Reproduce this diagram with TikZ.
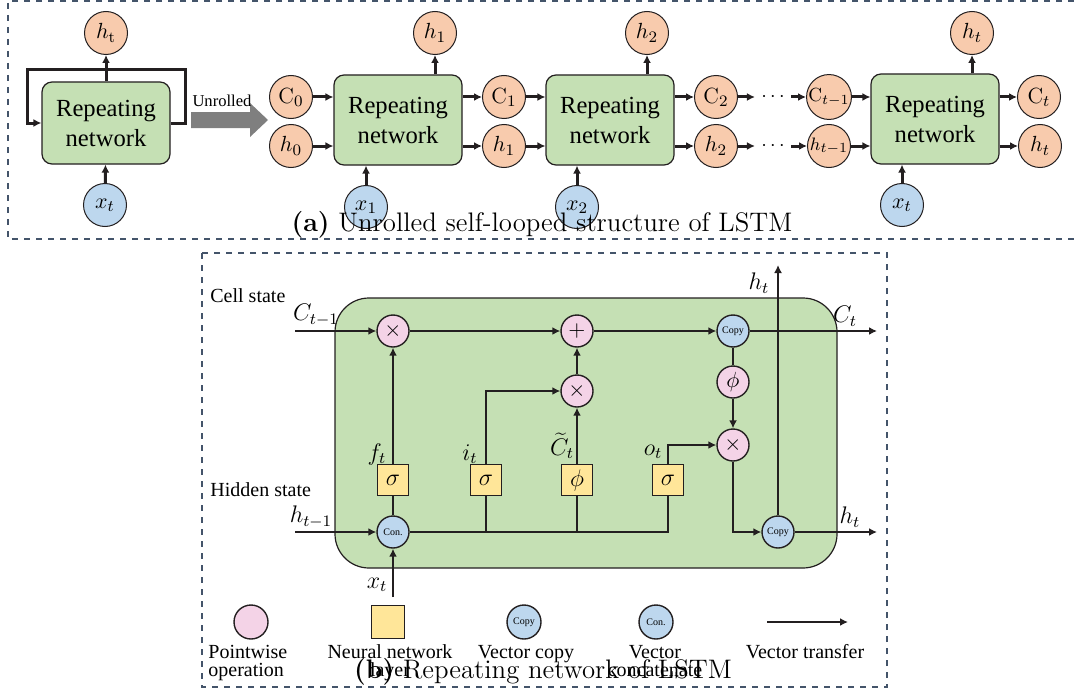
\documentclass[tikz,border=0pt]{standalone}
\usepackage{fontspec}
\newfontfamily\tnr{Liberation Serif}
\usepackage{xcolor}
\usetikzlibrary{arrows.meta}
\definecolor{rnGreen}{HTML}{C5E0B4}
\definecolor{outOrange}{HTML}{F8CBAD}
\definecolor{inBlue}{HTML}{BDD7EE}
\definecolor{opPink}{HTML}{F4D3E7}
\definecolor{nnYellow}{HTML}{FFE699}
\definecolor{ink}{HTML}{231F20}
\definecolor{frameBlue}{HTML}{44546A}
\definecolor{unrollGray}{HTML}{7F7F7F}

\begin{document}
\begin{tikzpicture}[x=0.5pt, y=-0.5pt, >={Latex[length=4pt,width=4pt]}]
    \tikzset{rnet/.style = {draw=ink, fill=rnGreen, rounded corners=5pt, minimum width=64pt, minimum height=45pt, align=center, font=\tnr\fontsize{12.3}{15}\selectfont, line width=0.6pt}}
    \tikzset{outv/.style = {shape=circle, draw=ink, fill=outOrange, minimum size=21.5pt, inner sep=0pt, line width=0.5pt, font=\fontsize{11}{12}\selectfont}}
    \tikzset{inv/.style = {outv, fill=inBlue}}
    \tikzset{flow/.style = {draw=ink, line width=1.5pt, ->}}
    \tikzset{frame/.style = {draw=frameBlue, dashed, line width=0.6pt}}
    \tikzset{op/.style = {shape=circle, draw=ink, fill=opPink, minimum size=16pt, inner sep=0pt, line width=0.7pt, font=\fontsize{11}{12}\selectfont}}
    \tikzset{vec/.style = {op, fill=inBlue, font=\tnr\fontsize{5}{6}\selectfont}}
    \tikzset{layer/.style = {draw=ink, fill=nnYellow, minimum size=15.5pt, inner sep=0pt, line width=0.8pt, font=\fontsize{13}{14}\selectfont}}
    \tikzset{wire/.style = {draw=ink, line width=1pt}}
    \tikzset{mlabel/.style = {font=\fontsize{12}{14}\selectfont, inner sep=0pt}}
    \tikzset{tlabel/.style = {font=\tnr\fontsize{10}{9}\selectfont, inner sep=0pt}}
    \useasboundingbox (0,0) rectangle (1074,690);

    % (a) frame
    \draw[frame] (1074,1) -- (8,1) -- (8,239) -- (1074,239);

    % (a) vertices
    \node[rnet, minimum height=41pt] (rn0) at (106,123) {Repeating\\network};
    \node[outv] (hl) at (106,33) {$h_{\mathrm{t}}$};
    \node[inv] (xl) at (105,205) {$x_t$};

    \node[outv] (c0) at (291,97) {$\mathrm{C}_0$};
    \node[outv] (h0) at (291,146) {$h_0$};
    \node[rnet] (rn1) at (398,120) {Repeating\\network};
    \node[outv] (hu1) at (435,33) {$h_1$};
    \node[inv] (x1) at (366,207) {$x_1$};
    \node[outv] (c1) at (504,97) {$\mathrm{C}_1$};
    \node[outv] (h1) at (504,146) {$h_1$};
    \node[rnet] (rn2) at (610,120) {Repeating\\network};
    \node[outv] (hu2) at (647,33) {$h_2$};
    \node[inv] (x2) at (577,207) {$x_2$};
    \node[outv] (c2) at (716,97) {$\mathrm{C}_2$};
    \node[outv] (h2) at (716,146) {$h_2$};
    \node[inner xsep=3pt, inner ysep=0pt] (dc) at (773,97) {$\cdots$};
    \node[inner xsep=3pt, inner ysep=0pt] (dh) at (773,146) {$\cdots$};
    \node[outv, font=\fontsize{9.5}{10}\selectfont] (ct1) at (829,97) {$\mathrm{C}_{t-1}$};
    \node[outv, font=\fontsize{9.5}{10}\selectfont] (ht1) at (829,146) {$h_{t-1}$};
    \node[rnet] (rnt) at (935,119) {Repeating\\network};
    \node[outv] (hut) at (972,33) {$h_t$};
    \node[inv] (xt) at (902,205) {$x_t$};
    \node[outv] (ct) at (1039,97) {$\mathrm{C}_t$};
    \node[outv] (ht) at (1040,146) {$h_t$};

    % (a) edges
    \draw[flow] (rn0) -- (hl);
    \draw[flow] (xl) -- (rn0);
    \draw[flow] (rn0.east) -- ++(15,0) |- (27,70) |- (rn0.west);
    \fill[unrollGray] (191,112) -- (250,112) -- (250,103) -- (268,120) -- (250,137) -- (250,128) -- (191,128) -- cycle;
    \node[font=\tnr\fontsize{8.3}{10}\selectfont, inner sep=0pt] (unr) at (222,101) {Unrolled};

    \draw[flow] (c0) -- (rn1.west |- c0);
    \draw[flow] (h0) -- (rn1.west |- h0);
    \draw[flow] (rn1.north -| hu1) -- (hu1);
    \draw[flow] (x1) -- (rn1.south -| x1);
    \draw[flow] (rn1.east |- c1) -- (c1);
    \draw[flow] (rn1.east |- h1) -- (h1);
    \draw[flow] (c1) -- (rn2.west |- c1);
    \draw[flow] (h1) -- (rn2.west |- h1);
    \draw[flow] (rn2.north -| hu2) -- (hu2);
    \draw[flow] (x2) -- (rn2.south -| x2);
    \draw[flow] (rn2.east |- c2) -- (c2);
    \draw[flow] (rn2.east |- h2) -- (h2);
    \draw[flow] (c2) -- (dc);
    \draw[flow] (h2) -- (dh);
    \draw[flow] (dc) -- (ct1);
    \draw[flow] (dh) -- (ht1);
    \draw[flow] (ct1) -- (rnt.west |- ct1);
    \draw[flow] (ht1) -- (rnt.west |- ht1);
    \draw[flow] (rnt.north -| hut) -- (hut);
    \draw[flow] (xt) -- (rnt.south -| xt);
    \draw[flow] (rnt.east |- ct) -- (ct);
    \draw[flow] (rnt.east |- ht) -- (ht);

    \node[anchor=base, inner sep=0pt, font=\fontsize{13.4}{16}\selectfont] (capa) at (542,231) {\textbf{(a)} Unrolled self-looped structure of LSTM};

    % (b) frame and cell
    \draw[frame] (202,253) rectangle (887,687);
    \node[draw=ink, fill=rnGreen, rounded corners=17pt, line width=0.6pt, minimum width=251pt, minimum height=135pt] (cell) at (586,433) {};

    % (b) vertices
    \node[op] (mf) at (393,331) {$\times$};
    \node[op] (ad) at (577,331) {$+$};
    \node[vec] (cp1) at (733,331) {Copy};
    \node[op] (mi) at (577,391) {$\times$};
    \node[op] (tc) at (733,382) {$\phi$};
    \node[op] (mo) at (733,445) {$\times$};
    \node[layer] (sf) at (393,480) {$\sigma$};
    \node[layer] (si) at (486,480) {$\sigma$};
    \node[layer] (sc) at (577,480) {$\phi$};
    \node[layer] (so) at (668,480) {$\sigma$};
    \node[vec] (cn) at (393,532) {Con.};
    \node[vec] (cp2) at (778,532) {Copy};
    \coordinate (cin) at (295,331);
    \coordinate (hin) at (295,532);
    \coordinate (xin) at (393,597);
    \coordinate (cout) at (877,331);
    \coordinate (hout) at (877,532);
    \coordinate (htop) at (778,265);

    % (b) labels
    \node[tlabel, anchor=west] (lcell) at (210,296) {Cell state};
    \node[tlabel, anchor=west] (lhid) at (210,490) {Hidden state};
    \node[mlabel] (lcin) at (316,315) {$C_{t-1}$};
    \node[mlabel] (lhin) at (311,517) {$h_{t-1}$};
    \node[mlabel] (lxin) at (377,585) {$x_t$};
    \node[mlabel] (lf) at (377,454) {$f_t$};
    \node[mlabel] (li) at (470,454) {$i_t$};
    \node[mlabel] (lc) at (562,446) {$\widetilde{C}_t$};
    \node[mlabel] (lo) at (653,452) {$o_t$};
    \node[mlabel] (lcout) at (845,316) {$C_t$};
    \node[mlabel] (lhout) at (850,517) {$h_t$};
    \node[mlabel] (lhtop) at (759,283) {$h_t$};

    % (b) edges
    \draw[wire, ->] (cin) -- (mf);
    \draw[wire, ->] (mf) -- (ad);
    \draw[wire, ->] (ad) -- (cp1);
    \draw[wire, ->] (cp1) -- (cout);
    \draw[wire, ->] (hin) -- (cn);
    \draw[wire, ->] (xin) -- (cn);
    \draw[wire] (cn) -- (sf);
    \draw[wire, ->] (sf) -- (mf);
    \draw[wire] (cn) -| (so);
    \draw[wire] (si) -- (si |- cn);
    \draw[wire] (sc) -- (sc |- cn);
    \draw[wire, ->] (si) |- (mi);
    \draw[wire, ->] (sc) -- (mi);
    \draw[wire, ->] (mi) -- (ad);
    \draw[wire] (cp1) -- (tc);
    \draw[wire, ->] (tc) -- (mo);
    \draw[wire, ->] (so) |- (mo);
    \draw[wire, ->] (mo) |- (cp2);
    \draw[wire, ->] (cp2) -- (hout);
    \draw[wire, ->] (cp2) -- (htop);

    % legend
    \node[op, minimum size=17pt] (lgop) at (251,622) {};
    \node[layer, minimum size=16.5pt] (lgnn) at (388,622) {};
    \node[vec, minimum size=17pt] (lgcp) at (524,622) {Copy};
    \node[vec, minimum size=17pt] (lgcn) at (656,622) {Con.};
    \coordinate (lga) at (767,622);
    \coordinate (lgb) at (848,622);
    \draw[wire, line width=1.3pt, ->] (lga) -- (lgb);
    \node[tlabel, anchor=base west, align=left] (tlop) at (208,676) {Pointwise\\operation};
    \node[tlabel, anchor=base, align=center] (tlnn) at (390,676) {Neural network\\layer};
    \node[tlabel, anchor=base] (tlcp) at (526,658) {Vector copy};
    \node[tlabel, anchor=base, align=center] (tlcn) at (655,676) {Vector\\concatenate};
    \node[tlabel, anchor=base] (tltr) at (805,658) {Vector transfer};

    \node[anchor=base, inner sep=0pt, font=\fontsize{13.4}{16}\selectfont] (capb) at (543,678) {\textbf{(b)} Repeating network of LSTM};
\end{tikzpicture}
\end{document}
